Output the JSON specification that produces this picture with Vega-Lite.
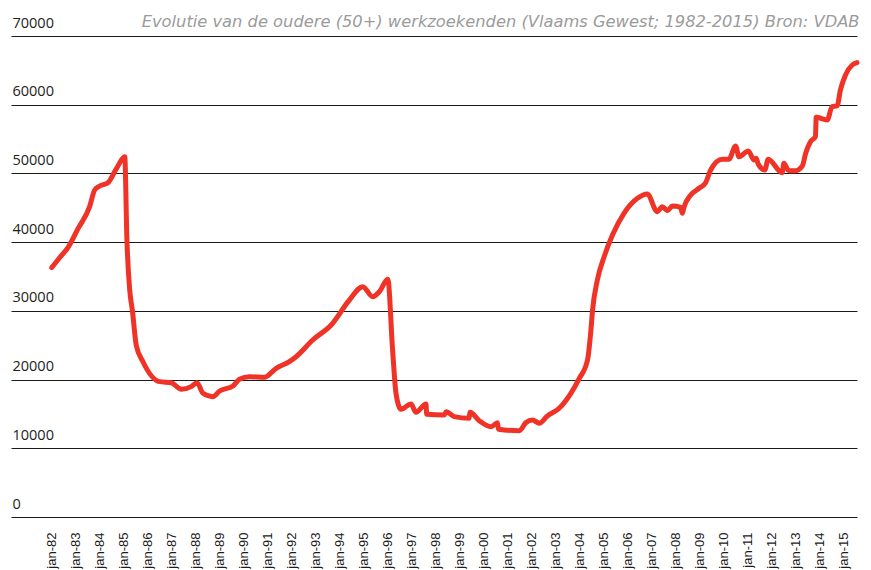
{
  "$schema": "https://vega.github.io/schema/vega-lite/v6.json",
  "autosize": {"type": "none"},
  "padding": {"left": 11, "top": 36, "right": 14, "bottom": 53},
  "width": 846,
  "height": 481,
  "background": "white",
  "title": {
    "text": "Evolutie van de oudere (50+) werkzoekenden (Vlaams Gewest; 1982-2015) Bron: VDAB",
    "anchor": "end",
    "font": "DejaVu Sans",
    "fontStyle": "italic",
    "fontWeight": "normal",
    "fontSize": 16.3,
    "color": "#9b9b9b",
    "baseline": "alphabetic",
    "offset": -28
  },
  "config": {
    "view": {"stroke": null},
    "axis": {"domain": false, "ticks": false, "tickSize": 0}
  },
  "data": {
    "values": [
      {"date": "1982-01-01", "v": 36300},
      {"date": "1982-05-05", "v": 37800},
      {"date": "1982-09-06", "v": 39250},
      {"date": "1983-02-06", "v": 42000},
      {"date": "1983-07-31", "v": 45160},
      {"date": "1983-10-15", "v": 47590},
      {"date": "1984-01-01", "v": 48170},
      {"date": "1984-05-05", "v": 48650},
      {"date": "1984-09-10", "v": 50700},
      {"date": "1985-01-15", "v": 52440},
      {"date": "1985-02-17", "v": 40310},
      {"date": "1985-04-01", "v": 33000},
      {"date": "1985-05-12", "v": 30000},
      {"date": "1985-07-09", "v": 25000},
      {"date": "1985-10-19", "v": 22600},
      {"date": "1986-06-29", "v": 19700},
      {"date": "1986-12-24", "v": 19550},
      {"date": "1987-05-27", "v": 18580},
      {"date": "1987-10-23", "v": 18970},
      {"date": "1988-01-19", "v": 19550},
      {"date": "1988-04-20", "v": 18000},
      {"date": "1988-09-16", "v": 17510},
      {"date": "1988-12-28", "v": 18340},
      {"date": "1989-07-20", "v": 19070},
      {"date": "1989-10-26", "v": 20040},
      {"date": "1990-03-29", "v": 20420},
      {"date": "1990-11-10", "v": 20330},
      {"date": "1991-05-08", "v": 21640},
      {"date": "1991-11-24", "v": 22600},
      {"date": "1992-03-07", "v": 23330},
      {"date": "1992-11-14", "v": 25760},
      {"date": "1993-08-22", "v": 27940},
      {"date": "1994-05-27", "v": 31580},
      {"date": "1994-12-16", "v": 33520},
      {"date": "1995-05-16", "v": 32060},
      {"date": "1995-08-26", "v": 32790},
      {"date": "1996-01-01", "v": 34590},
      {"date": "1996-03-14", "v": 24300},
      {"date": "1996-05-05", "v": 18000},
      {"date": "1996-07-20", "v": 15670},
      {"date": "1996-12-20", "v": 16450},
      {"date": "1997-03-03", "v": 15230},
      {"date": "1997-08-04", "v": 16450},
      {"date": "1997-08-15", "v": 14950},
      {"date": "1998-05-08", "v": 14850},
      {"date": "1998-06-07", "v": 15330},
      {"date": "1998-10-08", "v": 14600},
      {"date": "1999-05-23", "v": 14360},
      {"date": "1999-06-03", "v": 15230},
      {"date": "1999-10-23", "v": 14020},
      {"date": "2000-04-20", "v": 13140},
      {"date": "2000-07-27", "v": 13720},
      {"date": "2000-08-11", "v": 12760},
      {"date": "2001-06-25", "v": 12560},
      {"date": "2001-10-01", "v": 13720},
      {"date": "2002-01-11", "v": 14120},
      {"date": "2002-04-23", "v": 13640},
      {"date": "2002-08-26", "v": 14700},
      {"date": "2003-02-21", "v": 15820},
      {"date": "2003-08-18", "v": 18000},
      {"date": "2003-12-20", "v": 20100},
      {"date": "2004-04-27", "v": 22850},
      {"date": "2004-06-18", "v": 27220},
      {"date": "2004-07-13", "v": 30130},
      {"date": "2004-09-24", "v": 34490},
      {"date": "2005-01-05", "v": 37880},
      {"date": "2005-05-12", "v": 41040},
      {"date": "2005-11-03", "v": 44200},
      {"date": "2006-05-27", "v": 46380},
      {"date": "2006-10-23", "v": 47010},
      {"date": "2007-03-25", "v": 44430},
      {"date": "2007-06-10", "v": 45160},
      {"date": "2007-08-26", "v": 44580},
      {"date": "2007-11-10", "v": 45260},
      {"date": "2008-03-14", "v": 45070},
      {"date": "2008-04-09", "v": 44200},
      {"date": "2008-05-05", "v": 45120},
      {"date": "2008-08-15", "v": 46860},
      {"date": "2008-12-20", "v": 47840},
      {"date": "2009-03-29", "v": 48650},
      {"date": "2009-06-14", "v": 50500},
      {"date": "2009-12-09", "v": 52060},
      {"date": "2010-03-18", "v": 52060},
      {"date": "2010-06-29", "v": 54000},
      {"date": "2010-08-18", "v": 52440},
      {"date": "2011-01-08", "v": 53270},
      {"date": "2011-04-05", "v": 51960},
      {"date": "2011-05-08", "v": 52210},
      {"date": "2011-06-07", "v": 51380},
      {"date": "2011-09-16", "v": 50500},
      {"date": "2011-11-06", "v": 52060},
      {"date": "2012-06-07", "v": 50110},
      {"date": "2012-07-02", "v": 51480},
      {"date": "2012-09-16", "v": 50400},
      {"date": "2012-12-28", "v": 50400},
      {"date": "2013-04-09", "v": 51080},
      {"date": "2013-05-30", "v": 52930},
      {"date": "2013-08-11", "v": 54620},
      {"date": "2013-10-26", "v": 55350},
      {"date": "2013-11-06", "v": 58170},
      {"date": "2014-04-23", "v": 57780},
      {"date": "2014-07-06", "v": 59720},
      {"date": "2014-09-20", "v": 59820},
      {"date": "2014-11-10", "v": 62150},
      {"date": "2015-01-26", "v": 64330},
      {"date": "2015-05-08", "v": 65780},
      {"date": "2015-07-20", "v": 66120}
    ]
  },
  "mark": {
    "type": "line",
    "color": "#ef3326",
    "strokeWidth": 5,
    "strokeJoin": "round",
    "strokeCap": "round",
    "interpolate": "monotone"
  },
  "encoding": {
    "x": {
      "field": "date",
      "type": "temporal",
      "scale": {
        "domain": [
          {"year": 1980, "month": 4, "date": 20},
          {"year": 2015, "month": 7, "date": 20}
        ]
      },
      "axis": {
        "title": null,
        "grid": false,
        "format": "jan-%y",
        "values": [
          {"year": 1982, "month": 1, "date": 1}, {"year": 1983, "month": 1, "date": 1},
          {"year": 1984, "month": 1, "date": 1}, {"year": 1985, "month": 1, "date": 1},
          {"year": 1986, "month": 1, "date": 1}, {"year": 1987, "month": 1, "date": 1},
          {"year": 1988, "month": 1, "date": 1}, {"year": 1989, "month": 1, "date": 1},
          {"year": 1990, "month": 1, "date": 1}, {"year": 1991, "month": 1, "date": 1},
          {"year": 1992, "month": 1, "date": 1}, {"year": 1993, "month": 1, "date": 1},
          {"year": 1994, "month": 1, "date": 1}, {"year": 1995, "month": 1, "date": 1},
          {"year": 1996, "month": 1, "date": 1}, {"year": 1997, "month": 1, "date": 1},
          {"year": 1998, "month": 1, "date": 1}, {"year": 1999, "month": 1, "date": 1},
          {"year": 2000, "month": 1, "date": 1}, {"year": 2001, "month": 1, "date": 1},
          {"year": 2002, "month": 1, "date": 1}, {"year": 2003, "month": 1, "date": 1},
          {"year": 2004, "month": 1, "date": 1}, {"year": 2005, "month": 1, "date": 1},
          {"year": 2006, "month": 1, "date": 1}, {"year": 2007, "month": 1, "date": 1},
          {"year": 2008, "month": 1, "date": 1}, {"year": 2009, "month": 1, "date": 1},
          {"year": 2010, "month": 1, "date": 1}, {"year": 2011, "month": 1, "date": 1},
          {"year": 2012, "month": 1, "date": 1}, {"year": 2013, "month": 1, "date": 1},
          {"year": 2014, "month": 1, "date": 1}, {"year": 2015, "month": 1, "date": 1}
        ],
        "labelAngle": -90,
        "labelAlign": "right",
        "labelBaseline": "middle",
        "labelPadding": 15,
        "labelFont": "Liberation Sans",
        "labelFontSize": 13,
        "labelColor": "#1a1a1a",
        "labelOverlap": false,
        "labelFlush": false
      }
    },
    "y": {
      "field": "v",
      "type": "quantitative",
      "scale": {"domain": [0, 70000], "nice": false},
      "axis": {
        "title": null,
        "values": [0, 10000, 20000, 30000, 40000, 50000, 60000, 70000],
        "format": "d",
        "grid": true,
        "gridColor": "#1a1a1a",
        "gridWidth": 1.2,
        "labelAlign": "left",
        "labelBaseline": "alphabetic",
        "labelOffset": -9,
        "labelPadding": -1,
        "labelFont": "Open Sans",
        "labelFontSize": 14.5,
        "labelColor": "#222222",
        "labelFlush": false
      }
    }
  }
}
